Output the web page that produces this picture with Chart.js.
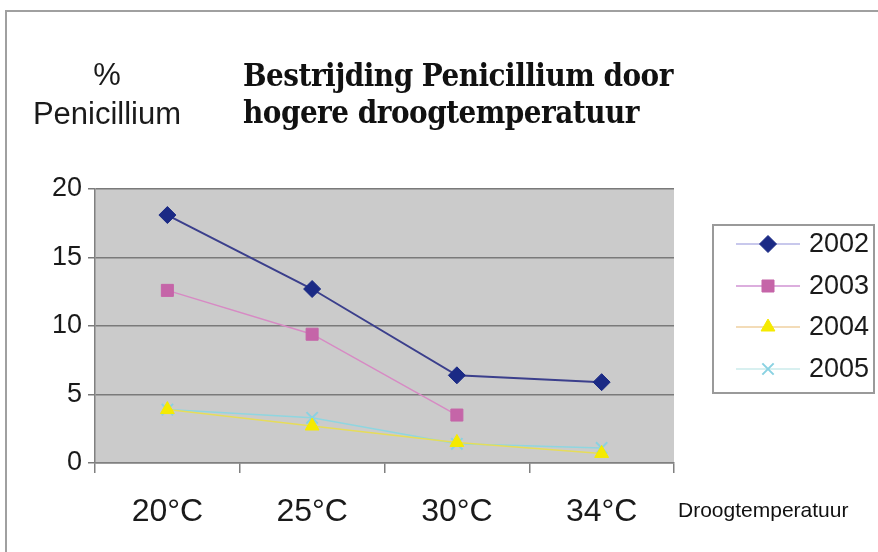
<!DOCTYPE html>
<html>
<head>
<meta charset="utf-8">
<script src="https://cdn.jsdelivr.net/npm/chart.js@4.4.0/dist/chart.umd.min.js"></script>
<style>
  html, body { margin: 0; padding: 0; background: #fff; }
  #wrap { position: relative; width: 878px; height: 552px; overflow: hidden; }
  #frame { position: absolute; left: 5px; top: 10px; width: 880px; height: 560px; border-left: 2px solid #a0a0a0; border-top: 2px solid #a0a0a0; }
  canvas { position: absolute; left: 0; top: 0; }
  .lbl { position: absolute; color: #1a1a1a; font-family: "Liberation Sans", Arial, sans-serif; white-space: nowrap; }
  #yunit { left: 27px; top: 55px; width: 160px; text-align: center; font-size: 31px; line-height: 39px; }
  #title { left: 243px; top: 57px; font-family: "DejaVu Serif Condensed", "DejaVu Serif", serif; font-weight: bold; font-size: 31px; line-height: 37px; color: #111; letter-spacing: -0.5px; }
  #xunit { left: 678px; top: 498px; font-size: 21px; color: #111; }
</style>
</head>
<body>
<div id="wrap">
  <div id="frame"></div>
  <canvas id="c" width="878" height="552"></canvas>
  <div class="lbl" id="yunit">%<br>Penicillium</div>
  <div class="lbl" id="title">Bestrijding Penicillium door<br>hogere droogtemperatuur</div>
  <div class="lbl" id="xunit">Droogtemperatuur</div>
</div>
<script>
// ---------- Data ----------
const temps = ["20°C", "25°C", "30°C", "34°C"];
const years = ["2002", "2003", "2004", "2005"];
const v2002 = [18.1, 12.7, 6.4, 5.9];
const v2003 = [12.6, 9.4, 3.5, null];
const v2004 = [3.9, 2.7, 1.5, 0.7];
const v2005 = [3.9, 3.3, 1.4, 1.1];
const yTicks = [0, 5, 10, 15, 20];

// ---------- Styles ----------
const styles = [
  { line: "#3b3f8c", legLine: "#c8c8ec", point: "#1b2a85", style: "rectRot", r: 8.5, lw: 2 },
  { line: "#d78ac4", legLine: "#dcaede", point: "#c565a8", style: "rect", r: 8.5, lw: 1.5 },
  { line: "#e6dc5a", legLine: "#f3dcb8", point: "#f5ea00", style: "triangle", r: 8, lw: 1.5 },
  { line: "#8fd6e0", legLine: "#d8f0f0", point: "#8ad2e2", style: "crossRot", r: 8, lw: 1.5 },
];
const series = [v2002, v2003, v2004, v2005];

const datasets = series.map((vals, i) => ({
  label: years[i],
  data: vals,
  borderColor: styles[i].line,
  borderWidth: styles[i].lw,
  pointStyle: styles[i].style,
  pointRadius: styles[i].r,
  pointBackgroundColor: styles[i].point,
  pointBorderColor: styles[i].point,
  pointBorderWidth: styles[i].style === "crossRot" ? 2 : 1,
  tension: 0,
  spanGaps: false,
}));

const plotBg = {
  id: "plotBg",
  beforeDraw(chart) {
    const { ctx, chartArea: a } = chart;
    ctx.save();
    ctx.fillStyle = "#cbcbcb";
    ctx.fillRect(a.left, a.top, a.right - a.left, a.bottom - a.top);
    ctx.restore();
  }
};

const legendBox = {
  id: "legendBox",
  afterDraw(chart) {
    const ctx = chart.ctx;
    ctx.save();
    ctx.strokeStyle = "#9a9a9a";
    ctx.lineWidth = 2;
    ctx.strokeRect(713, 225, 161, 168);
    const rows = [244, 286, 327, 369];
    years.forEach((y, i) => {
      const s = styles[i];
      const cy = rows[i];
      ctx.strokeStyle = s.legLine;
      ctx.lineWidth = 2;
      ctx.beginPath(); ctx.moveTo(736, cy); ctx.lineTo(800, cy); ctx.stroke();
      ctx.fillStyle = s.point; ctx.strokeStyle = s.point;
      ctx.lineWidth = s.style === "crossRot" ? 2 : 1;
      Chart.helpers.drawPoint(ctx, { pointStyle: s.style, radius: s.r, rotation: 0, borderWidth: ctx.lineWidth }, 768, cy);
      ctx.fillStyle = "#1a1a1a";
      ctx.font = "27px 'Liberation Sans', Arial, sans-serif";
      ctx.textBaseline = "middle";
      ctx.textAlign = "left";
      ctx.fillText(y, 809, cy + 1);
    });
    ctx.restore();
  }
};

new Chart(document.getElementById("c"), {
  type: "line",
  data: { labels: temps, datasets },
  options: {
    responsive: false,
    devicePixelRatio: 1,
    animation: false,
    layout: { padding: { left: 0, top: 189, right: 204, bottom: 0 } },
    plugins: { legend: { display: false }, tooltip: { enabled: false }, title: { display: false } },
    scales: {
      x: {
        offset: true,
        grid: { display: true, offset: true, drawOnChartArea: false, drawTicks: true, tickLength: 10, color: "#808080", lineWidth: 1.5 },
        border: { display: true, color: "#808080", width: 1.5 },
        ticks: { color: "#1a1a1a", font: { family: "'Liberation Sans', Arial, sans-serif", size: 32 }, padding: 20, maxRotation: 0 },
        afterFit(scale) { scale.height = 89; }
      },
      y: {
        min: 0, max: 20,
        afterBuildTicks(scale) { scale.ticks = yTicks.map(v => ({ value: v })); },
        grid: { color: "#7a7a7a", lineWidth: 1.5, drawTicks: true, tickLength: 7 },
        border: { display: true, color: "#808080", width: 1.5 },
        ticks: { color: "#1a1a1a", font: { family: "'Liberation Sans', Arial, sans-serif", size: 27 }, padding: 6 },
        afterFit(scale) { scale.width = 95; }
      }
    }
  },
  plugins: [plotBg, legendBox]
});
</script>
</body>
</html>
